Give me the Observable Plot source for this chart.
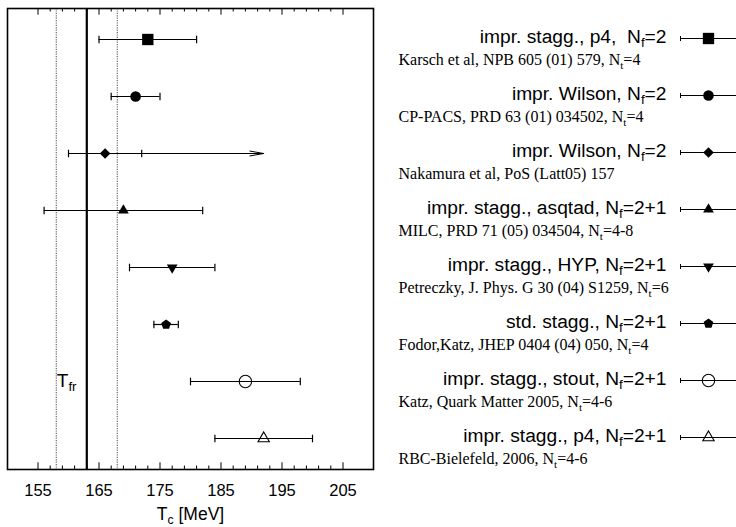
<!DOCTYPE html>
<html>
<head>
<meta charset="utf-8">
<script src="https://cdn.jsdelivr.net/npm/d3@7"></script>
<script src="https://cdn.jsdelivr.net/npm/@observablehq/plot@0.6"></script>
<style>
  html, body { margin: 0; padding: 0; background: white; }
  #wrap { display: flex; width: 736px; height: 527px; background: white; }
  svg { display: block; }
  svg text { white-space: pre; }
</style>
</head>
<body>
<div id="wrap"></div>
<script>
// ---- data ----
const labels = [
  "impr. stagg., p4,  N_{f}=2",
  "impr. Wilson, N_{f}=2",
  "impr. Wilson, N_{f}=2",
  "impr. stagg., asqtad, N_{f}=2+1",
  "impr. stagg., HYP, N_{f}=2+1",
  "std. stagg., N_{f}=2+1",
  "impr. stagg., stout, N_{f}=2+1",
  "impr. stagg., p4, N_{f}=2+1"
];
const citations = [
  "Karsch et al, NPB 605 (01) 579, N_{t}=4",
  "CP-PACS, PRD 63 (01) 034502, N_{t}=4",
  "Nakamura et al, PoS (Latt05) 157",
  "MILC, PRD 71 (05) 034504, N_{t}=4-8",
  "Petreczky, J. Phys. G 30 (04) S1259, N_{t}=6",
  "Fodor,Katz, JHEP 0404 (04) 050, N_{t}=4",
  "Katz, Quark Matter 2005, N_{t}=4-6",
  "RBC-Bielefeld, 2006, N_{t}=4-6"
];
const tc    = [173, 171, 166, 169, 177, 176, 189, 192];
const errLo = [165, 167, 160, 156, 170, 174, 180, 184];
const errHi = [181, 175, 172, 182, 184, 178, 198, 200];
const arrowTo = [null, null, 192, null, null, null, null, null];
const tFr = 163, tFrLo = 158, tFrHi = 168;
const tFrLabel = "T_{fr}";
const xLabel = "T_{c} [MeV]";
const xTicks = [155, 165, 175, 185, 195, 205];
const xMinorTicks = [157,159,161,163,167,169,171,173,177,179,181,183,187,189,191,193,197,199,201,203];

// ---- custom symbols ----
const SQ3 = Math.sqrt(3);
const vbar = { draw(ctx, size) { const h = Math.sqrt(size / Math.PI); ctx.moveTo(0, -h); ctx.lineTo(0, h); } };
const triDown = { draw(ctx, size) {
  const y = -Math.sqrt(size / (SQ3 * 3));
  ctx.moveTo(0, -y * 2); ctx.lineTo(-SQ3 * y, y); ctx.lineTo(SQ3 * y, y); ctx.closePath();
} };
const pentagon = { draw(ctx, size) {
  const R = Math.sqrt(size / Math.PI);
  for (let k = 0; k < 5; ++k) {
    const a = -Math.PI / 2 + k * 2 * Math.PI / 5;
    const px = R * Math.cos(a), py = R * Math.sin(a);
    if (k === 0) ctx.moveTo(px, py); else ctx.lineTo(px, py);
  }
  ctx.closePath();
} };

// ---- styles (per row) ----
const styles = [
  {symbol: "square",   r: 6.4, fill: "black", stroke: "none"},
  {symbol: "circle",   r: 5.3, fill: "black", stroke: "none"},
  {symbol: "diamond2", r: 4.8, fill: "black", stroke: "none"},
  {symbol: "triangle", r: 4.0, fill: "black", stroke: "none"},
  {symbol: triDown,    r: 4.0, fill: "black", stroke: "none"},
  {symbol: pentagon,   r: 5.1, fill: "black", stroke: "none"},
  {symbol: "circle",   r: 6.2, fill: "none",  stroke: "black"},
  {symbol: "triangle", r: 4.2, fill: "none",  stroke: "black"}
];

const idx = d3.range(labels.length);
const W1 = 380, H = 527, MT = 8, MB = 58;
const FH = H - MT - MB;

const dotMarks = (x, extra = {}) => idx.map(i => Plot.dot([i], {
  x, y: d => d, symbol: styles[i].symbol, r: styles[i].r,
  fill: styles[i].fill, stroke: styles[i].stroke, strokeWidth: 1.1, ...extra
}));

const main = Plot.plot({
  width: W1, height: H,
  marginLeft: 7, marginRight: 7, marginTop: MT, marginBottom: MB,
  x: {domain: [150, 210]},
  y: {type: "point", domain: idx, padding: 0.5, axis: null},
  style: {fontFamily: "'Liberation Sans', Arial, sans-serif", background: "white", color: "black"},
  marks: [
    Plot.ruleX([tFrLo, tFrHi], {stroke: "#666", strokeWidth: 1.2, strokeDasharray: "1.2,1.2"}),
    Plot.ruleX([tFr], {stroke: "black", strokeWidth: 2.2}),
    Plot.ruleX(xTicks, {insetBottom: FH - 6.7, stroke: "black", strokeWidth: 1}),
    Plot.ruleX(xTicks, {insetTop: FH - 6.7, stroke: "black", strokeWidth: 1}),
    Plot.ruleX(xMinorTicks, {insetBottom: FH - 3.5, stroke: "black", strokeWidth: 1}),
    Plot.ruleX(xMinorTicks, {insetTop: FH - 3.5, stroke: "black", strokeWidth: 1}),
    Plot.frame({stroke: "black", strokeWidth: 1.6}),
    Plot.ruleY(idx, {y: d => d, x1: i => errLo[i], x2: i => errHi[i], stroke: "black", strokeWidth: 1.2}),
    Plot.dot(idx, {x: i => errLo[i], y: d => d, symbol: vbar, r: 3.8, fill: "none", stroke: "black", strokeWidth: 1.2}),
    Plot.dot(idx, {x: i => errHi[i], y: d => d, symbol: vbar, r: 3.8, fill: "none", stroke: "black", strokeWidth: 1.2}),
    Plot.arrow(idx.filter(i => arrowTo[i] != null), {
      x1: i => errHi[i], x2: i => arrowTo[i], y1: d => d, y2: d => d,
      headAngle: 20, headLength: 21, stroke: "black", strokeWidth: 1
    }),
    ...dotMarks(i => tc[i]),
    Plot.text([tFrLabel], {x: () => tFrLo, y: () => 6, textAnchor: "start", lineAnchor: "bottom", dx: 0.5, dy: 5, fontSize: 19, fill: "black"}),
    Plot.axisX(xTicks, {tickSize: 0, tickPadding: 15, fontSize: 16.5, label: null, fill: "black"}),
    Plot.text([xLabel], {frameAnchor: "bottom", lineAnchor: "bottom", dy: 50, fontSize: 17.5, fill: "black"})
  ]
});

const legend = Plot.plot({
  width: 736 - W1, height: H,
  marginLeft: 300, marginRight: 0, marginTop: 9, marginBottom: 61,
  x: {domain: [0, 1], axis: null},
  y: {type: "point", domain: idx, padding: 0.5, axis: null},
  style: {fontFamily: "'Liberation Sans', Arial, sans-serif", background: "white", color: "black"},
  marks: [
    Plot.ruleY(idx, {y: d => d, stroke: "black", strokeWidth: 1}),
    Plot.dot(idx, {y: d => d, frameAnchor: "left", symbol: vbar, r: 2.5, fill: "none", stroke: "black", strokeWidth: 1}),
    ...dotMarks(undefined, {frameAnchor: "middle"}),
    Plot.text(labels, {y: (d, i) => i, frameAnchor: "left", dx: -14, dy: 4, textAnchor: "end", lineAnchor: "bottom", fontSize: 19.2, fill: "black"}),
    Plot.text(citations, {y: (d, i) => i, frameAnchor: "left", dx: -282, dy: 26, textAnchor: "start", lineAnchor: "bottom", fontSize: 16, fill: "black", fontFamily: "'Liberation Serif', 'Times New Roman', serif"})
  ]
});

const wrap = document.getElementById("wrap");
wrap.appendChild(main);
wrap.appendChild(legend);

// ---- subscript markup "_{...}" -> tspans ----
const NS = "http://www.w3.org/2000/svg";
document.querySelectorAll("svg text").forEach(t => {
  const s = t.textContent;
  if (!s.includes("_{")) return;
  const fs = parseFloat(getComputedStyle(t).fontSize) || 16;
  const shift = 0.25 * fs;
  const parts = s.split(/(_\{[^}]*\})/);
  while (t.firstChild) t.removeChild(t.firstChild);
  let down = false;
  for (const p of parts) {
    if (!p) continue;
    const ts = document.createElementNS(NS, "tspan");
    if (p.startsWith("_{")) {
      ts.textContent = p.slice(2, -1);
      ts.setAttribute("font-size", (0.7 * fs).toFixed(2));
      ts.setAttribute("dy", shift.toFixed(2));
      down = true;
    } else {
      ts.textContent = p;
      if (down) { ts.setAttribute("dy", (-shift).toFixed(2)); down = false; }
    }
    t.appendChild(ts);
  }
});
</script>
</body>
</html>
